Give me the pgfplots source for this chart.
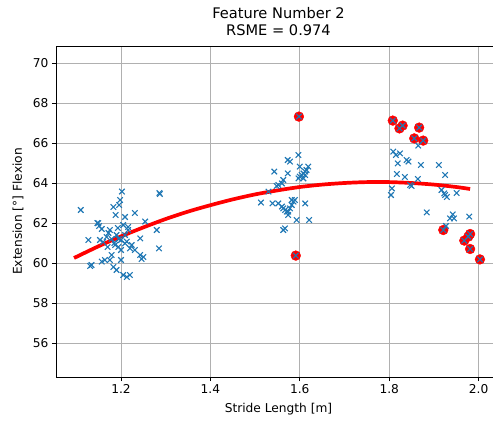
\documentclass[border=0pt]{standalone}
\usepackage{pgfplots}
\pgfplotsset{compat=1.18}
\usepackage{fontspec}
\setmainfont{DejaVu Sans}
\definecolor{mplblue}{HTML}{1F77B4}
\definecolor{gridgray}{HTML}{B0B0B0}
\begin{document}
\begin{tikzpicture}
\begin{axis}[
  scale only axis,
  width=445bp, height=331bp,
  xmin=1.0546, xmax=2.0501,
  ymin=54.3, ymax=70.85,
  xtick={1.2,1.4,1.6,1.8,2.0},
  xticklabels={1.2,1.4,1.6,1.8,2.0},
  ytick={56,58,60,62,64,66,68,70},
  yticklabels={56,58,60,62,64,66,68,70},
  grid=major,
  major grid style={gridgray, line width=0.9bp},
  axis line style={line width=0.9bp, black},
  tick align=outside, tick pos=left,
  major tick length=4bp,
  every tick/.style={black, line width=0.9bp},
  ticklabel style={font=\fontsize{12.2bp}{14bp}\selectfont},
  xlabel={Stride Length [m]},
  ylabel={Extension [°] Flexion},
  label style={font=\fontsize{12.2bp}{14bp}\selectfont},
  xlabel style={at={(axis description cs:0.5,-0.0967)}, anchor=center},
  ylabel style={at={(axis description cs:-0.0854,0.5)}, anchor=center},
  title={Feature Number 2\\RSME = 0.974},
  title style={at={(axis description cs:0.5,1.056)}, anchor=center, align=center,
    font=\fontsize{14.6bp}{17.5bp}\selectfont},
]
% outliers (red circles)
\addplot[only marks, mark=*, mark size=4.9bp, color=red, mark options={draw=red, fill=red}] coordinates {
(1.598,67.32) (1.591,60.37)
(1.808,67.12) (1.823,66.73) (1.830,66.87) (1.867,66.77) (1.856,66.23) (1.876,66.12)
(1.921,61.65) (1.981,61.45) (1.977,61.32) (1.968,61.12) (1.981,60.70) (2.003,60.18)
};
% all samples
\addplot[only marks, mark=x, mark size=3.9bp, color=mplblue, mark options={line width=1.1bp}] coordinates {
(1.110,62.65) (1.202,63.57) (1.198,63.15) (1.196,62.90) (1.183,62.80) (1.188,62.40)
(1.231,62.50) (1.286,63.50) (1.287,63.45) (1.149,61.99) (1.147,62.00) (1.209,62.30)
(1.216,61.80) (1.254,62.07) (1.280,61.65) (1.127,61.15) (1.285,60.73) (1.134,59.90)
(1.131,59.85) (1.243,60.40) (1.246,60.20) (1.250,60.30) (1.157,60.07) (1.164,60.15)
(1.179,60.40) (1.175,60.15) (1.183,59.80) (1.190,59.65) (1.200,60.15) (1.205,59.40)
(1.213,59.30) (1.220,59.40) (1.175,61.65) (1.172,61.50) (1.168,61.30) (1.179,61.20)
(1.153,61.15) (1.160,61.05) (1.190,61.40) (1.200,61.15) (1.209,60.98) (1.213,61.07)
(1.224,60.90) (1.220,60.73) (1.231,60.65) (1.243,61.23) (1.187,60.90) (1.194,60.80)
(1.200,60.65) (1.209,61.40) (1.216,61.65) (1.193,61.75) (1.157,61.70) (1.151,61.85)
(1.185,61.00) (1.205,61.90) (1.195,61.20) (1.170,60.80)
(1.597,65.40) (1.573,65.15) (1.578,65.07) (1.600,64.82) (1.619,64.82) (1.615,64.65)
(1.612,64.57) (1.608,64.48) (1.604,64.40) (1.612,64.40) (1.600,64.32) (1.608,64.23)
(1.597,64.23) (1.543,64.57) (1.573,64.48) (1.563,64.15) (1.560,63.98) (1.552,63.90)
(1.548,63.85) (1.530,63.57) (1.513,63.02) (1.539,62.98) (1.552,62.98) (1.560,62.82)
(1.563,62.73) (1.567,62.65) (1.571,62.57) (1.574,62.57) (1.578,62.73) (1.582,62.90)
(1.586,63.07) (1.589,63.15) (1.582,63.15) (1.612,62.98) (1.574,62.40) (1.593,62.15)
(1.621,62.15) (1.567,61.73) (1.563,61.65) (1.598,67.32) (1.591,60.37)
(1.865,65.87) (1.809,65.57) (1.815,65.40) (1.824,65.48) (1.819,64.98) (1.839,65.15)
(1.843,65.07) (1.871,64.90) (1.911,64.90) (1.925,64.40) (1.817,64.45) (1.835,64.30)
(1.864,64.20) (1.806,63.73) (1.804,63.40) (1.847,63.90) (1.850,63.85) (1.917,63.65)
(1.923,63.48) (1.929,63.30) (1.925,63.40) (1.951,63.50) (1.884,62.53) (1.942,62.43)
(1.945,62.23) (1.936,62.23) (1.979,62.32) (1.927,61.85)
(1.808,67.12) (1.823,66.73) (1.830,66.87) (1.867,66.77) (1.856,66.23) (1.876,66.12)
(1.921,61.65) (1.981,61.45) (1.977,61.32) (1.968,61.12) (1.981,60.70) (2.003,60.18)
};
% fitted curve
\addplot[red, line width=3.7bp, smooth] coordinates {
(1.095,60.25) (1.15,60.84) (1.20,61.33) (1.25,61.78) (1.30,62.20) (1.35,62.57)
(1.40,62.89) (1.45,63.18) (1.50,63.43) (1.55,63.63) (1.60,63.80) (1.65,63.92)
(1.70,64.00) (1.75,64.045) (1.80,64.045) (1.85,64.00) (1.90,63.92) (1.95,63.80)
(1.981,63.70)
};
\end{axis}
\pgfresetboundingbox
\path[use as bounding box] (-56bp,-44bp) rectangle (437bp,377bp);
\end{tikzpicture}
\end{document}
